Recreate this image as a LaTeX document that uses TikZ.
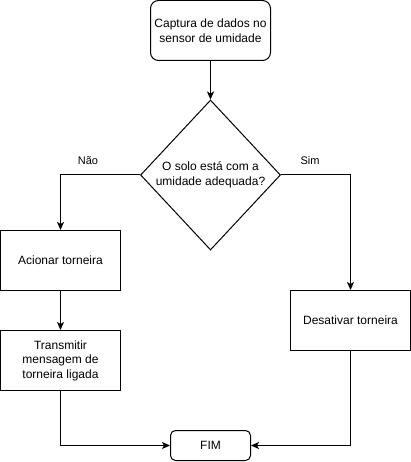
\documentclass[tikz,border=0pt]{standalone}
\usepackage{fontspec}
\setmainfont{Liberation Sans}
\usetikzlibrary{shapes.geometric,arrows.meta}

\begin{document}
\begin{tikzpicture}[x=1pt,y=-1pt,line width=1pt,
	txt/.style={font=\fontsize{12}{14.5}\selectfont,align=center,inner sep=0pt},
	lbl/.style={font=\fontsize{11}{13}\selectfont,inner sep=0pt},
	proc/.style={txt,draw,minimum width=120pt,minimum height=60pt},
	term/.style={proc,rounded corners=8pt},
	decision/.style={draw,diamond,inner sep=0pt,minimum width=140pt,minimum height=150pt},
	flow/.style={-{Stealth[length=8pt,width=7pt,inset=2pt]}}]
	\useasboundingbox (0,0) rectangle (411,462);
	\node[term] (cap) at (210.5,30.5) {Captura de dados no\\sensor de umidade};
	\node[decision] (dec) at (210.5,175) {};
	\node[txt] (decq) at (dec) {O solo está com a\\umidade adequada?};
	\node[proc] (acion) at (60.5,260.5) {Acionar torneira};
	\node[proc] (trans) at (60.5,360.5) {Transmitir\\mensagem de\\torneira ligada};
	\node[proc] (desat) at (350.5,320.5) {Desativar torneira};
	\node[term,minimum width=80pt,minimum height=30pt,rounded corners=5pt] (fim) at (210.5,445.5) {FIM};
	\node[lbl] (nao) at (88,161) {Não};
	\node[lbl] (sim) at (310,161) {Sim};
	\draw[flow] (cap) -- (dec.north);
	\draw[flow] (dec.west) -| (acion);
	\draw[flow] (dec.east) -| (desat);
	\draw[flow] (acion) -- (trans);
	\draw[flow] (trans) |- (fim);
	\draw[flow] (desat) |- (fim);
\end{tikzpicture}
\end{document}
